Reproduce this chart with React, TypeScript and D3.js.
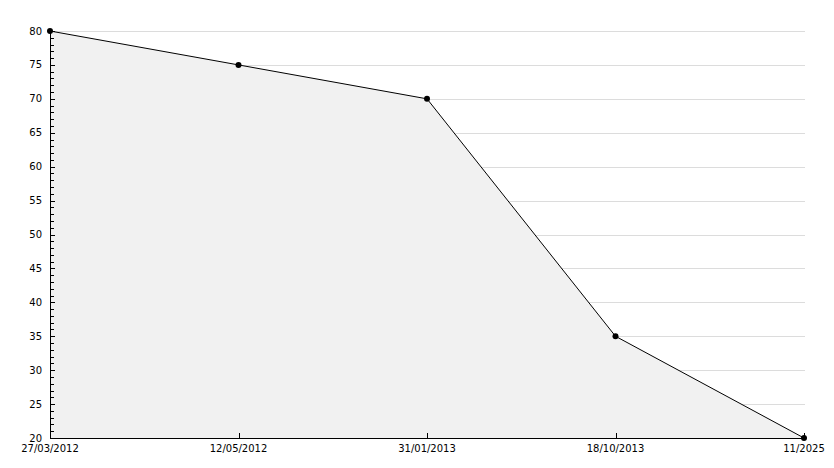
import * as d3 from 'd3';
import React, { useEffect, useRef } from 'react';

// chart data
const dates = ['27/03/2012', '12/05/2012', '31/01/2013', '18/10/2013', '11/2025'];
const values = [80, 75, 70, 35, 20];
const yTicks = [20, 25, 30, 35, 40, 45, 50, 55, 60, 65, 70, 75, 80];

const W = 834;
const H = 468;

export default function App() {
    const svgRef = useRef<SVGSVGElement>(null);

    useEffect(() => {
        const svg = d3.select(svgRef.current);
        svg.selectAll('*').remove();

        const x = d3.scalePoint<string>().domain(dates).range([50, 804]);
        const y = d3.scaleLinear().domain([20, 80]).range([438, 31]);

        const font = 'DejaVu Sans, Verdana, sans-serif';

        // horizontal grid
        svg.append('g')
            .selectAll('line')
            .data(yTicks.filter((t) => t > 20))
            .join('line')
            .attr('x1', 50)
            .attr('x2', 805)
            .attr('y1', (d) => Math.round(y(d)) + 0.5)
            .attr('y2', (d) => Math.round(y(d)) + 0.5)
            .attr('stroke', '#dcdcdc')
            .attr('stroke-width', 1);

        const pts = dates.map((d, i) => ({ d, v: values[i] }));

        // area under the line
        const area = d3.area<{ d: string; v: number }>()
            .x((p) => x(p.d)!)
            .y0(y(20))
            .y1((p) => y(p.v));
        svg.append('path').attr('d', area(pts)).attr('fill', '#f1f1f1');

        // line
        const line = d3.line<{ d: string; v: number }>()
            .x((p) => x(p.d)!)
            .y((p) => y(p.v));
        svg.append('path')
            .attr('d', line(pts))
            .attr('fill', 'none')
            .attr('stroke', '#000')
            .attr('stroke-width', 1);

        // y axis with minor ticks
        const yAxis = svg.append('g');
        yAxis.append('line')
            .attr('x1', 50.5).attr('x2', 50.5)
            .attr('y1', y(80)).attr('y2', y(20) + 1)
            .attr('stroke', '#000');
        yAxis.selectAll('line.minor')
            .data(d3.range(20, 81, 1))
            .join('line')
            .attr('class', 'minor')
            .attr('x1', 50)
            .attr('x2', (d) => (d % 5 === 0 ? 55 : 54))
            .attr('y1', (d) => Math.round(y(d)) + 0.5)
            .attr('y2', (d) => Math.round(y(d)) + 0.5)
            .attr('stroke', '#000');
        yAxis.selectAll('text')
            .data(yTicks)
            .join('text')
            .attr('x', 42)
            .attr('y', (d) => y(d))
            .attr('dy', '0.35em')
            .attr('text-anchor', 'end')
            .attr('font-family', font)
            .attr('font-size', 10)
            .attr('fill', '#000')
            .text((d) => d);

        // x axis
        const xAxis = svg.append('g');
        xAxis.append('line')
            .attr('x1', 50).attr('x2', 805)
            .attr('y1', y(20) + 0.5).attr('y2', y(20) + 0.5)
            .attr('stroke', '#000');
        xAxis.selectAll('line.tick')
            .data(dates)
            .join('line')
            .attr('class', 'tick')
            .attr('x1', (d) => Math.round(x(d)!) + 0.5)
            .attr('x2', (d) => Math.round(x(d)!) + 0.5)
            .attr('y1', y(20))
            .attr('y2', y(20) - 5)
            .attr('stroke', '#000');
        xAxis.selectAll('text')
            .data(dates)
            .join('text')
            .attr('x', (d) => x(d)!)
            .attr('y', 452)
            .attr('text-anchor', 'middle')
            .attr('font-family', font)
            .attr('font-size', 10)
            .attr('fill', '#000')
            .text((d) => d);

        // markers
        svg.append('g')
            .selectAll('circle')
            .data(pts)
            .join('circle')
            .attr('cx', (p) => x(p.d)!)
            .attr('cy', (p) => y(p.v))
            .attr('r', 3)
            .attr('fill', '#000');
    }, []);

    return (
        <svg ref={svgRef} width={W} height={H} style={{ position: 'absolute', left: 0, top: 0, background: '#fff' }} />
    );
}
